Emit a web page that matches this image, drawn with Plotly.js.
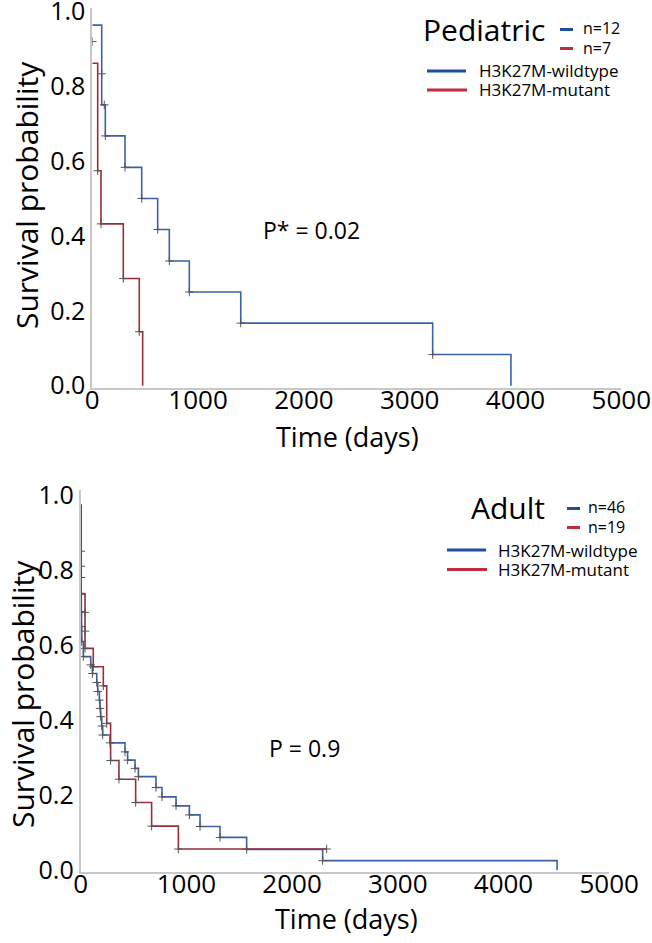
<!DOCTYPE html>
<html>
<head>
<meta charset="utf-8">
<script src="https://cdn.plot.ly/plotly-3.0.1.min.js"></script>
<style>
  html, body { margin: 0; padding: 0; background: #fff; }
  #km { width: 652px; height: 943px; }
</style>
</head>
<body>
<div id="km"></div>
<script>
// Pediatric, H3K27M-wildtype (n=12)
var pedWtTime = [0, 89, 123, 309, 467, 618, 728, 917, 1403, 3217, 3957];
var pedWtSurv = [0.963, 0.75, 0.667, 0.583, 0.5, 0.417, 0.333, 0.25, 0.167, 0.083, 0];
var pedWtCensTime = [0, 89, 113, 123, 309, 467, 618, 728, 917, 1403, 3217];
var pedWtCensSurv = [0.919, 0.833, 0.75, 0.667, 0.583, 0.5, 0.417, 0.333, 0.25, 0.167, 0.083];

// Pediatric, H3K27M-mutant (n=7)
var pedMutTime = [0, 51, 82, 293, 444, 476];
var pedMutSurv = [0.861, 0.574, 0.432, 0.286, 0.144, 0];
var pedMutCensTime = [51, 82, 293, 444];
var pedMutCensSurv = [0.574, 0.432, 0.286, 0.144];

// Adult, H3K27M-wildtype (n=46)
var adWtTime = [0, 3, 6, 8, 10, 25, 95, 111, 152, 161, 177, 183, 189, 199, 208, 277, 419, 444, 514, 546, 712, 769, 902, 1028, 1129, 1318, 1570, 2289, 4507];
var adWtSurv = [0.875, 0.738, 0.689, 0.649, 0.609, 0.569, 0.547, 0.524, 0.5, 0.476, 0.453, 0.431, 0.409, 0.384, 0.36, 0.339, 0.315, 0.293, 0.271, 0.249, 0.22, 0.195, 0.171, 0.147, 0.116, 0.087, 0.055, 0.025, 0];
var adWtCensTime = [2, 2, 2, 3, 6, 8, 10, 25, 95, 111, 152, 161, 177, 183, 189, 199, 208, 277, 419, 444, 514, 546, 712, 769, 902, 1028, 1129, 1318, 1570, 2289];
var adWtCensSurv = [0.85, 0.81, 0.78, 0.738, 0.689, 0.649, 0.609, 0.569, 0.547, 0.524, 0.5, 0.476, 0.453, 0.431, 0.409, 0.384, 0.36, 0.339, 0.315, 0.293, 0.271, 0.249, 0.22, 0.195, 0.171, 0.147, 0.116, 0.087, 0.055, 0.025];

// Adult, H3K27M-mutant (n=19)
var adMutTime = [0, 5, 41, 119, 214, 246, 283, 362, 520, 671, 924, 2327];
var adMutSurv = [0.973, 0.736, 0.591, 0.542, 0.491, 0.391, 0.292, 0.242, 0.18, 0.117, 0.056, 0.056];
var adMutCensTime = [5, 41, 41, 41, 119, 214, 246, 283, 362, 520, 671, 924, 2327];
var adMutCensSurv = [0.736, 0.687, 0.637, 0.591, 0.542, 0.491, 0.391, 0.292, 0.242, 0.18, 0.117, 0.056, 0.056];

var xTicks = [0, 1000, 2000, 3000, 4000, 5000];
var yTicks = [0, 0.2, 0.4, 0.6, 0.8, 1.0];

var blueLine = '#3a62a6', redLine = '#9b2d3a';
var blueKey = '#1f4e9e', redKey = '#c42b3e';

var W = 652, H = 943;
function px(x) { return x / W; }
function py(y) { return 1 - y / H; }

function step(t, s, color, xa, ya) {
  return { x: t, y: s, xaxis: xa, yaxis: ya, type: 'scatter', mode: 'lines',
           line: { shape: 'hv', color: color, width: 1.6 }, hoverinfo: 'x+y' };
}
function cens(t, s, xa, ya) {
  return { x: t, y: s, xaxis: xa, yaxis: ya, type: 'scatter', mode: 'markers',
           marker: { symbol: 'cross-thin', size: 6, line: { color: '#555', width: 1 } },
           hoverinfo: 'skip' };
}

var data = [
  step(pedWtTime, pedWtSurv, blueLine, 'x', 'y'),
  step(pedMutTime, pedMutSurv, redLine, 'x', 'y'),
  cens(pedWtCensTime, pedWtCensSurv, 'x', 'y'),
  cens(pedMutCensTime, pedMutCensSurv, 'x', 'y'),
  step(adWtTime, adWtSurv, blueLine, 'x2', 'y2'),
  step(adMutTime, adMutSurv, redLine, 'x2', 'y2'),
  cens(adWtCensTime, adWtCensSurv, 'x2', 'y2'),
  cens(adMutCensTime, adMutCensSurv, 'x2', 'y2')
];

var xBase = {
  range: [0, 5000], tickvals: xTicks, ticks: '', showgrid: false, zeroline: false,
  showline: true, linecolor: '#c8c8c8', linewidth: 2, tickfont: { size: 26 },
  ticklabelstandoff: -12, ticklabeloverflow: 'allow', fixedrange: true
};
var yBase = {
  range: [-0.005, 1.01], tickvals: yTicks, tickformat: '.1f', ticks: '', showgrid: false,
  zeroline: false, showline: true, linecolor: '#c8c8c8', linewidth: 2,
  tickfont: { size: 25 }, ticklabeloverflow: 'allow', fixedrange: true
};

function txt(text, x, y, size, extra) {
  var a = { text: text, x: px(x), y: py(y), xref: 'paper', yref: 'paper', showarrow: false,
            font: { size: size, color: '#000' }, xanchor: 'center', yanchor: 'middle' };
  for (var k in extra) a[k] = extra[k];
  return a;
}
function key(x0, x1, y, color) {
  return { type: 'line', xref: 'paper', yref: 'paper', x0: px(x0), x1: px(x1), y0: py(y), y1: py(y),
           line: { color: color, width: 3 } };
}

var layout = {
  width: W, height: H,
  margin: { l: 0, r: 0, t: 0, b: 0 },
  paper_bgcolor: '#fff', plot_bgcolor: '#fff',
  showlegend: false,
  font: { family: 'Open Sans, sans-serif', color: '#000' },
  xaxis: Object.assign({}, xBase, { domain: [px(92.3), px(621.3)], anchor: 'y' }),
  yaxis: Object.assign({}, yBase, { domain: [py(387.5), py(7.5)], anchor: 'x' }),
  xaxis2: Object.assign({}, xBase, { domain: [px(80.7), px(609.2)], anchor: 'y2' }),
  yaxis2: Object.assign({}, yBase, { range: [-0.005, 1.013], domain: [py(871.9), py(490.1)], anchor: 'x2' }),
  annotations: [
    txt('Survival probability', 27, 195, 30, { textangle: -90 }),
    txt('Time (days)', 347, 437, 27),
    txt('Survival probability', 22, 694, 30, { textangle: -90 }),
    txt('Time (days)', 346, 918, 27),
    { text: 'P* = 0.02', x: 2072, y: 0.415, xref: 'x', yref: 'y', showarrow: false, font: { size: 23 } },
    { text: 'P = 0.9', x: 2113, y: 0.325, xref: 'x2', yref: 'y2', showarrow: false, font: { size: 23 } },
    txt('Pediatric', 421, 29, 30, { xanchor: 'left' }),
    txt('n=12', 581, 28, 16, { xanchor: 'left' }),
    txt('n=7', 581, 48, 16, { xanchor: 'left' }),
    txt('H3K27M-wildtype', 477, 71, 17, { xanchor: 'left' }),
    txt('H3K27M-mutant', 477, 90, 17, { xanchor: 'left' }),
    txt('Adult', 469, 507, 30, { xanchor: 'left' }),
    txt('n=46', 586, 507, 16, { xanchor: 'left' }),
    txt('n=19', 586, 527, 16, { xanchor: 'left' }),
    txt('H3K27M-wildtype', 496, 550, 17, { xanchor: 'left' }),
    txt('H3K27M-mutant', 496, 569, 17, { xanchor: 'left' })
  ],
  shapes: [
    key(560, 573, 29.5, blueKey), key(560, 573, 48.5, redKey),
    key(427, 466, 71, blueKey), key(427, 467, 90, redKey),
    key(567, 580, 508.5, blueKey), key(567, 580, 527.5, redKey),
    key(447, 486, 550, blueKey), key(447, 487, 569.5, redKey)
  ]
};

Plotly.newPlot('km', data, layout, { displayModeBar: false, staticPlot: true });
</script>
</body>
</html>
